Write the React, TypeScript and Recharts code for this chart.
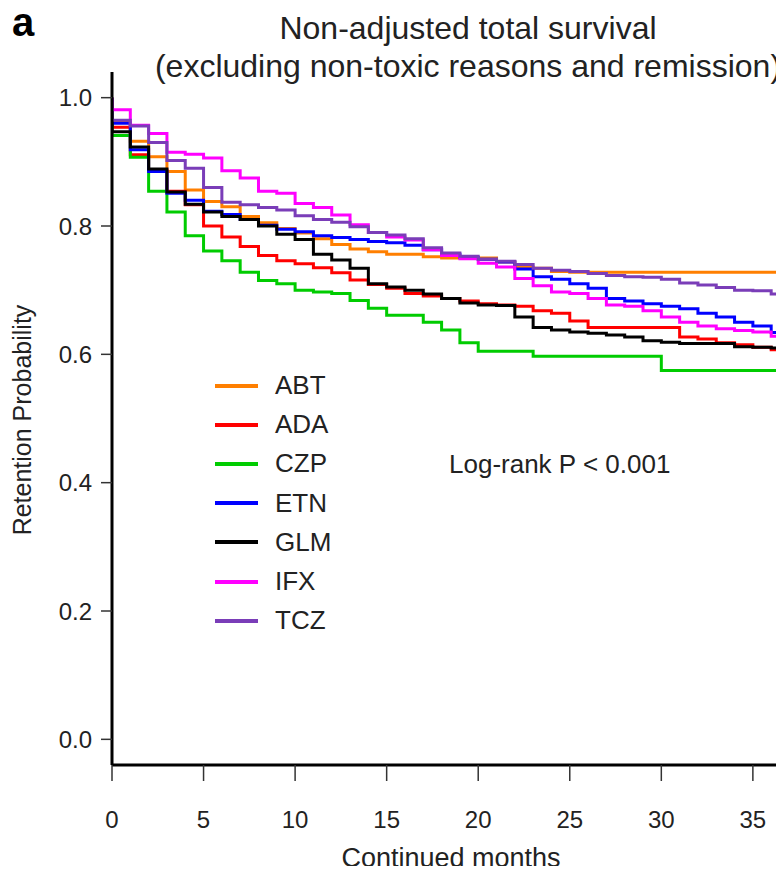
import React from 'react';
import { LineChart, Line, XAxis, YAxis, Legend } from 'recharts';

// time (months); the first two entries mark the start (1.0) and the immediate early drop
const MONTHS = [0, 0, 1, 2, 3, 4, 5, 6, 7, 8, 9, 10, 11, 12, 13, 14, 15, 16, 17, 18, 19, 20, 21, 22, 23, 24, 25, 26, 27, 28, 29, 30, 31, 32, 33, 34, 35, 36];

const ABT = [1.0, 0.962, 0.932, 0.908, 0.885, 0.856, 0.838, 0.830, 0.815, 0.805, 0.796, 0.789, 0.780, 0.771, 0.764, 0.760, 0.756, 0.756, 0.752, 0.750, 0.750, 0.750, 0.744, 0.736, 0.734, 0.729, 0.728, 0.728, 0.728, 0.728, 0.728, 0.728, 0.728, 0.728, 0.728, 0.728, 0.728, 0.728];
const ADA = [1.0, 0.954, 0.911, 0.887, 0.854, 0.833, 0.800, 0.783, 0.768, 0.754, 0.746, 0.741, 0.735, 0.727, 0.716, 0.709, 0.703, 0.695, 0.691, 0.687, 0.683, 0.679, 0.677, 0.675, 0.668, 0.664, 0.652, 0.642, 0.642, 0.642, 0.642, 0.642, 0.627, 0.624, 0.618, 0.615, 0.611, 0.607];
const CZP = [1.0, 0.941, 0.907, 0.854, 0.822, 0.785, 0.761, 0.746, 0.728, 0.715, 0.710, 0.700, 0.697, 0.695, 0.684, 0.672, 0.661, 0.661, 0.650, 0.638, 0.618, 0.605, 0.605, 0.605, 0.597, 0.597, 0.597, 0.597, 0.597, 0.597, 0.597, 0.575, 0.575, 0.575, 0.575, 0.575, 0.575, 0.575];
const ETN = [1.0, 0.960, 0.919, 0.885, 0.851, 0.840, 0.823, 0.818, 0.810, 0.801, 0.795, 0.791, 0.785, 0.782, 0.779, 0.776, 0.774, 0.770, 0.763, 0.756, 0.751, 0.748, 0.744, 0.733, 0.721, 0.717, 0.710, 0.703, 0.687, 0.683, 0.679, 0.675, 0.671, 0.664, 0.658, 0.650, 0.644, 0.634];
const GLM = [1.0, 0.947, 0.923, 0.889, 0.853, 0.834, 0.822, 0.815, 0.810, 0.800, 0.787, 0.779, 0.756, 0.747, 0.734, 0.710, 0.705, 0.700, 0.694, 0.687, 0.680, 0.677, 0.676, 0.658, 0.642, 0.638, 0.635, 0.633, 0.630, 0.627, 0.621, 0.619, 0.617, 0.617, 0.617, 0.612, 0.611, 0.610];
const IFX = [1.0, 0.981, 0.957, 0.944, 0.915, 0.912, 0.906, 0.886, 0.875, 0.854, 0.851, 0.835, 0.829, 0.817, 0.802, 0.790, 0.783, 0.778, 0.763, 0.754, 0.749, 0.742, 0.736, 0.718, 0.707, 0.697, 0.695, 0.687, 0.677, 0.675, 0.668, 0.658, 0.650, 0.644, 0.640, 0.637, 0.635, 0.628];
const TCZ = [1.0, 0.965, 0.956, 0.930, 0.902, 0.890, 0.860, 0.837, 0.833, 0.829, 0.825, 0.816, 0.810, 0.806, 0.799, 0.790, 0.786, 0.780, 0.766, 0.758, 0.753, 0.748, 0.745, 0.740, 0.734, 0.731, 0.729, 0.726, 0.723, 0.721, 0.720, 0.717, 0.711, 0.708, 0.704, 0.700, 0.699, 0.694];

const SERIES_NAMES = ['ABT', 'ADA', 'CZP', 'ETN', 'GLM', 'IFX', 'TCZ'];
const SERIES_VALUES = [ABT, ADA, CZP, ETN, GLM, IFX, TCZ];
const SERIES_COLORS = ['#FF7F00', '#FF0000', '#00CC00', '#0000FF', '#000000', '#FF00FF', '#7A3DB8'];

const X_TICKS = [0, 5, 10, 15, 20, 25, 30, 35];
const Y_TICKS = [0, 0.2, 0.4, 0.6, 0.8, 1.0];
const X_END = 37; // curves continue past the visible right edge

const TITLE_1 = 'Non-adjusted total survival';
const TITLE_2 = '(excluding non-toxic reasons and remission)';
const PANEL = 'a';
const X_LABEL = 'Continued months';
const Y_LABEL = 'Retention Probability';
const P_TEXT = 'Log-rank P < 0.001';

const data: any[] = MONTHS.map((t, i) => {
  const row: any = { t };
  SERIES_NAMES.forEach((n, k) => { row[n] = SERIES_VALUES[k][i]; });
  return row;
});
{
  const last: any = { t: X_END };
  SERIES_NAMES.forEach((n, k) => { last[n] = SERIES_VALUES[k][SERIES_VALUES[k].length - 1]; });
  data.push(last);
}

const FONT = "'Liberation Sans', Arial, Helvetica, sans-serif";
const W = 776;
const H = 858;

const XTick = (props: any) => {
  const { x, y, payload } = props;
  return (
    <text x={x} y={y + 36} textAnchor="middle" dominantBaseline="central" fontSize={24} fill="#222" fontFamily={FONT}>
      {payload.value}
    </text>
  );
};

const YTick = (props: any) => {
  const { x, y, payload } = props;
  return (
    <text x={x - 7} y={y} textAnchor="end" dominantBaseline="central" fontSize={24} fill="#222" fontFamily={FONT}>
      {Number(payload.value).toFixed(1)}
    </text>
  );
};

const LegendBox = () => (
  <div style={{ fontFamily: FONT, fontSize: 26, color: '#222' }}>
    {SERIES_NAMES.map((n, k) => (
      <div key={n} style={{ display: 'flex', alignItems: 'center', height: 39.2 }}>
        <span style={{ display: 'inline-block', width: 43, height: 4, background: SERIES_COLORS[k], marginRight: 17 }} />
        <span>{n}</span>
      </div>
    ))}
  </div>
);

export default function App() {
  return (
    <div style={{ position: 'relative', width: W, height: H, background: '#fff', overflow: 'visible' }}>
      <LineChart width={W} height={H} data={data} margin={{ top: 64, right: 0, left: 0, bottom: 0 }}>
        <XAxis
          type="number"
          dataKey="t"
          domain={[0, 36.7]}
          allowDataOverflow
          ticks={X_TICKS}
          interval={0}
          height={101}
          axisLine={{ stroke: '#000', strokeWidth: 3 }}
          tickLine={{ stroke: '#333', strokeWidth: 1.5 }}
          tickSize={16}
          tick={XTick}
        />
        <YAxis
          type="number"
          domain={[-0.04, 1.04]}
          allowDataOverflow
          ticks={Y_TICKS}
          interval={0}
          width={104}
          axisLine={{ stroke: '#000', strokeWidth: 3 }}
          tickLine={{ stroke: '#333', strokeWidth: 1.5 }}
          tickSize={11}
          tick={YTick}
        />
        <Legend
          layout="vertical"
          align="center"
          verticalAlign="middle"
          content={LegendBox}
          wrapperStyle={{ left: 207, top: 358, width: 140, height: 280 }}
        />
        {SERIES_NAMES.map((n, k) => (
          <Line
            key={n}
            type="stepAfter"
            dataKey={n}
            stroke={SERIES_COLORS[k]}
            strokeWidth={3}
            dot={false}
            activeDot={false}
            isAnimationActive={false}
          />
        ))}
      </LineChart>
      <svg width={W} height={H + 8} style={{ position: 'absolute', left: 0, top: 0, pointerEvents: 'none', overflow: 'visible' }}>
        <text x={4} y={28} fontSize={40} fontWeight="bold" fontFamily={FONT} fill="#000">{PANEL}</text>
        <text x={460} y={31} textAnchor="middle" fontSize={32} fontFamily={FONT} fill="#222">{TITLE_1}</text>
        <text x={460} y={69} textAnchor="middle" fontSize={32} fontFamily={FONT} fill="#222">{TITLE_2}</text>
        <text x={443} y={850} textAnchor="middle" dominantBaseline="central" fontSize={27} fontFamily={FONT} fill="#222">{X_LABEL}</text>
        <text x={14} y={412} textAnchor="middle" dominantBaseline="central" fontSize={25} fontFamily={FONT} fill="#222" transform="rotate(-90 14 412)">{Y_LABEL}</text>
        <text x={441} y={456} dominantBaseline="central" fontSize={26} fontFamily={FONT} fill="#222">{P_TEXT}</text>
      </svg>
    </div>
  );
}
